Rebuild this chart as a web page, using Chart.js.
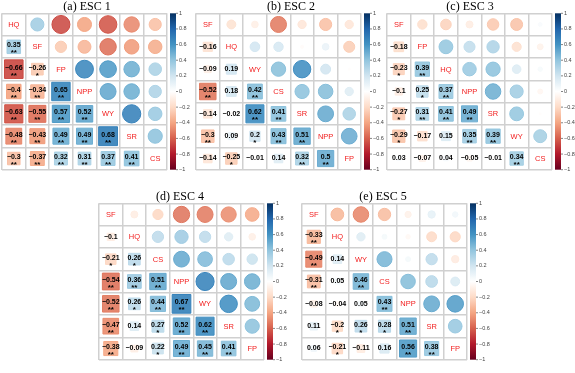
<!DOCTYPE html>
<html>
<head>
<meta charset="utf-8">
<script src="https://cdn.jsdelivr.net/npm/chart.js@4/dist/chart.umd.min.js"></script>
<style>
  html, body { margin: 0; padding: 0; background: #fff; overflow: hidden; }
  body { width: 575px; height: 373px; position: relative; }
  canvas { position: absolute; }
</style>
</head>
<body>
<script>
// ---- data (lower triangle, row by row; stars = significance) ----
const esc1Labels = ['HQ', 'SF', 'FP', 'NPP', 'WY', 'SR', 'CS'];
const esc1Values = [
  [0.35],
  [-0.66, -0.26],
  [-0.4, -0.34, 0.65],
  [-0.63, -0.55, 0.57, 0.52],
  [-0.48, -0.43, 0.49, 0.49, 0.68],
  [-0.3, -0.37, 0.32, 0.31, 0.37, 0.41]
];
const esc1Stars = [
  ['**'],
  ['**', '*'],
  ['**', '**', '**'],
  ['**', '**', '**', '**'],
  ['**', '**', '**', '**', '**'],
  ['**', '**', '**', '**', '**', '**']
];

const esc2Labels = ['SF', 'HQ', 'WY', 'CS', 'SR', 'NPP', 'FP'];
const esc2Values = [
  [-0.16],
  [-0.09, 0.19],
  [-0.52, 0.18, 0.42],
  [-0.14, -0.02, 0.62, 0.41],
  [-0.3, 0.09, 0.2, 0.43, 0.51],
  [-0.14, -0.25, -0.01, 0.14, 0.32, 0.5]
];
const esc2Stars = [
  [''],
  ['', ''],
  ['**', '', '**'],
  ['', '', '**', '**'],
  ['**', '', '*', '**', '**'],
  ['', '*', '', '', '**', '**']
];

const esc3Labels = ['SF', 'FP', 'HQ', 'NPP', 'SR', 'WY', 'CS'];
const esc3Values = [
  [-0.18],
  [-0.23, 0.39],
  [-0.1, 0.25, 0.37],
  [-0.27, 0.31, 0.41, 0.49],
  [-0.29, -0.17, 0.15, 0.35, 0.39],
  [0.03, -0.07, 0.04, -0.05, -0.01, 0.34]
];
const esc3Stars = [
  [''],
  ['*', '**'],
  ['', '*', '**'],
  ['*', '**', '**', '**'],
  ['*', '', '', '**', '**'],
  ['', '', '', '', '', '**']
];

const esc4Labels = ['SF', 'HQ', 'CS', 'NPP', 'WY', 'SR', 'FP'];
const esc4Values = [
  [-0.1],
  [-0.21, 0.26],
  [-0.54, 0.36, 0.51],
  [-0.52, 0.26, 0.44, 0.67],
  [-0.47, 0.14, 0.27, 0.52, 0.62],
  [-0.38, -0.09, 0.22, 0.49, 0.45, 0.41]
];
const esc4Stars = [
  [''],
  ['*', '*'],
  ['**', '**', '**'],
  ['**', '*', '**', '**'],
  ['**', '', '*', '**', '**'],
  ['**', '', '*', '**', '**', '**']
];

const esc5Labels = ['SF', 'HQ', 'WY', 'CS', 'NPP', 'SR', 'FP'];
const esc5Values = [
  [-0.33],
  [-0.49, 0.14],
  [-0.31, 0.05, 0.46],
  [-0.08, -0.04, 0.05, 0.43],
  [0.11, -0.2, 0.26, 0.28, 0.51],
  [0.06, -0.21, -0.11, 0.16, 0.56, 0.38]
];
const esc5Stars = [
  ['**'],
  ['**', ''],
  ['**', '', '**'],
  ['', '', '', '**'],
  ['', '*', '*', '*', '**'],
  ['', '*', '', '', '**', '**']
];

const colorbarTicks = [-1, -0.8, -0.6, -0.4, -0.2, 0, 0.2, 0.4, 0.6, 0.8, 1];

// ---- layout ----
const GRID_W = 165, GRID_H = 167, PAD_L = 2, PAD_T = 14, PAD_B = 6, CB_W = 28;
const panels = [
  { title: '(a) ESC 1', labels: esc1Labels, values: esc1Values, stars: esc1Stars, left: 2,   top: 12,  titleX: 87 },
  { title: '(b) ESC 2', labels: esc2Labels, values: esc2Values, stars: esc2Stars, left: 196, top: 12,  titleX: 291 },
  { title: '(c) ESC 3', labels: esc3Labels, values: esc3Values, stars: esc3Stars, left: 387, top: 12,  titleX: 470 },
  { title: '(d) ESC 4', labels: esc4Labels, values: esc4Values, stars: esc4Stars, left: 99,  top: 202, titleX: 180 },
  { title: '(e) ESC 5', labels: esc5Labels, values: esc5Values, stars: esc5Stars, left: 302, top: 202, titleX: 383 }
];

// corrplot RdBu ramp
const rdbu = ['#67001F', '#B2182B', '#D6604D', '#F4A582', '#FDDBC7', '#FFFFFF',
              '#D1E5F0', '#92C5DE', '#4393C3', '#2166AC', '#053061'];
function hex(h) { return [1, 3, 5].map(k => parseInt(h.substr(k, 2), 16)); }
function corrColor(v, alpha) {
  const t = (Math.max(-1, Math.min(1, v)) + 1) / 2 * 10;
  const i = Math.min(9, Math.floor(t));
  const f = t - i;
  const a = hex(rdbu[i]), b = hex(rdbu[i + 1]);
  const c = a.map((x, k) => Math.round(x + (b[k] - x) * f));
  return `rgba(${c[0]},${c[1]},${c[2]},${alpha === undefined ? 1 : alpha})`;
}
function fmt(v) {
  const r = Math.round(v * 100) / 100;
  return (r < 0 ? '\u2212' : '') + String(Math.abs(r));
}
function cellPx(chart) {
  const xs = chart.scales.x;
  return Math.abs(xs.getPixelForValue(1) - xs.getPixelForValue(0));
}

function makePanel(p) {
  const n = p.labels.length;
  const canvas = document.createElement('canvas');
  const w = PAD_L + GRID_W + CB_W, h = PAD_T + GRID_H + PAD_B;
  canvas.width = w; canvas.height = h;
  canvas.style.left = (p.left - PAD_L) + 'px';
  canvas.style.top = (p.top - PAD_T) + 'px';
  canvas.style.width = w + 'px'; canvas.style.height = h + 'px';
  document.body.appendChild(canvas);

  // circles above the diagonal, squares below
  const upper = [], lower = [];
  for (let r = 1; r < n; r++) {
    for (let c = 0; c < r; c++) {
      const v = p.values[r - 1][c];
      lower.push({ x: c + 0.5, y: r + 0.5, v: v, s: p.stars[r - 1][c] });
      upper.push({ x: r + 0.5, y: c + 0.5, v: v });
    }
  }

  const corrText = {
    id: 'corrText',
    afterDatasetsDraw(chart) {
      const { ctx, scales: { x, y } } = chart;
      ctx.save();
      ctx.textAlign = 'center';
      // diagonal labels
      ctx.fillStyle = '#f21d1d';
      ctx.font = '7.5px "Liberation Sans", Arial, sans-serif';
      ctx.textBaseline = 'middle';
      p.labels.forEach((lab, i) => {
        ctx.fillText(lab, x.getPixelForValue(i + 0.5), y.getPixelForValue(i + 0.5) + 0.5);
      });
      // coefficients and stars
      ctx.fillStyle = '#000';
      lower.forEach(d => {
        const cx = x.getPixelForValue(d.x), cy = y.getPixelForValue(d.y);
        ctx.font = 'bold 7px "Liberation Sans", Arial, sans-serif';
        ctx.textBaseline = 'middle';
        ctx.fillText(fmt(d.v), cx, d.s ? cy - 1.5 : cy);
        if (d.s) {
          ctx.font = 'bold 8px "Liberation Sans", Arial, sans-serif';
          ctx.textBaseline = 'alphabetic';
          ctx.fillText(d.s, cx, cy + 8.5);
        }
      });
      // title
      ctx.font = '12px "Liberation Serif", "Times New Roman", serif';
      ctx.textBaseline = 'alphabetic';
      ctx.fillText(p.title, p.titleX - (p.left - PAD_L), PAD_T - 2);
      ctx.restore();
    },
    beforeDatasetsDraw(chart) {
      // colour bar in the right axis box
      const { ctx } = chart;
      const cb = chart.scales.cb;
      const x0 = cb.left + 3, bw = 6;
      const yTop = cb.getPixelForValue(1), yBot = cb.getPixelForValue(-1);
      const g = ctx.createLinearGradient(0, yBot, 0, yTop);
      for (let k = 0; k <= 40; k++) {
        const v = -1 + k / 20;
        g.addColorStop(k / 40, corrColor(v));
      }
      ctx.save();
      ctx.fillStyle = g;
      ctx.fillRect(x0, yTop, bw, yBot - yTop);
      ctx.strokeStyle = '#666';
      ctx.lineWidth = 0.8;
      colorbarTicks.forEach(t => {
        const yy = cb.getPixelForValue(t);
        ctx.beginPath();
        ctx.moveTo(x0 + bw, yy);
        ctx.lineTo(x0 + bw + 2, yy);
        ctx.stroke();
      });
      ctx.restore();
    }
  };

  const gridOpts = { color: '#d0d0d0', lineWidth: 1.5, drawTicks: false };

  new Chart(canvas, {
    type: 'scatter',
    data: {
      datasets: [
        {
          data: upper,
          pointStyle: 'circle',
          pointRadius: c => Math.sqrt(Math.abs(c.raw.v)) * cellPx(c.chart) * 0.47,
          pointBackgroundColor: c => corrColor(c.raw.v, 0.88),
          pointBorderColor: c => corrColor(c.raw.v),
          pointBorderWidth: 1
        },
        {
          data: lower,
          pointStyle: 'rect',
          pointRadius: c => Math.sqrt(Math.abs(c.raw.v)) * cellPx(c.chart) * 0.97 / (2 * Math.SQRT1_2),
          pointBackgroundColor: c => corrColor(c.raw.v, 0.92),
          pointBorderColor: c => corrColor(c.raw.v),
          pointBorderWidth: 1
        }
      ]
    },
    options: {
      responsive: false,
      animation: false,
      devicePixelRatio: 1,
      events: [],
      layout: { padding: { left: PAD_L, top: PAD_T, bottom: PAD_B, right: 0 } },
      plugins: { legend: { display: false }, tooltip: { enabled: false } },
      scales: {
        x: { type: 'linear', min: 0, max: n, ticks: { display: false, stepSize: 1 }, grid: gridOpts, border: { display: false } },
        y: { type: 'linear', min: 0, max: n, reverse: true, ticks: { display: false, stepSize: 1 }, grid: gridOpts, border: { display: false } },
        cb: {
          type: 'linear', position: 'right', min: -1, max: 1,
          afterBuildTicks: s => { s.ticks = colorbarTicks.map(v => ({ value: v })); },
          ticks: {
            padding: 12, color: '#444',
            font: { size: 5.5, family: '"Liberation Sans", Arial, sans-serif' },
            callback: v => fmt(v)
          },
          grid: { display: false, drawTicks: false },
          border: { display: false },
          afterFit: s => { s.width = CB_W; }
        }
      }
    },
    plugins: [corrText]
  });
}

panels.forEach(makePanel);
</script>
</body>
</html>
